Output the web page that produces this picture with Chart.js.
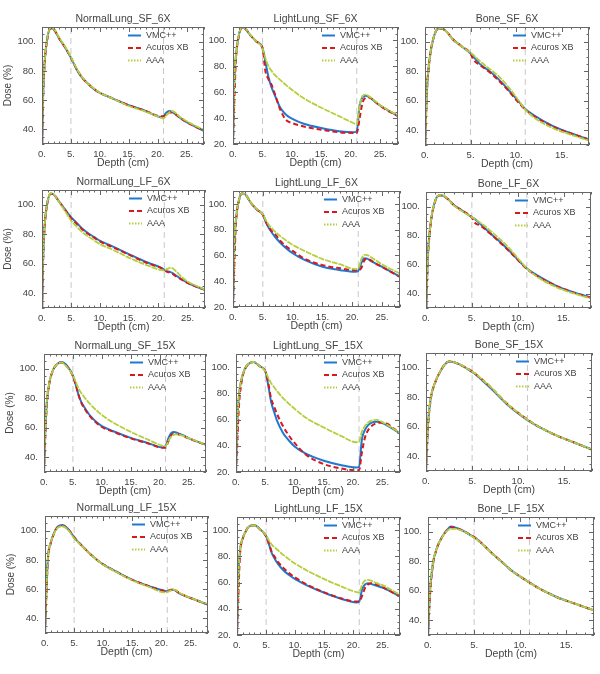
<!DOCTYPE html>
<html>
<head>
<meta charset="utf-8">
<script src="https://cdn.jsdelivr.net/npm/chart.js@4.4.1/dist/chart.umd.min.js"></script>
<style>
  html, body { margin: 0; padding: 0; background: #fff; }
  #page { position: relative; width: 600px; height: 674px; overflow: hidden; }
  #page canvas { position: absolute; }
</style>
</head>
<body>
<div id="page"></div>
<script>
// Depth-dose curves, 3 algorithms, 12 phantom/field/energy cases

const lungDepth = [0, 0.2, 0.5, 1, 1.5, 2, 3, 4, 5, 5.5, 6, 6.5, 7, 8, 9, 10, 12, 15, 18, 20.5, 21, 21.5, 22, 22.5, 23, 24, 25, 28];
const boneDepth = [0, 0.2, 0.5, 1, 1.5, 2, 2.5, 3, 4, 5, 5.3, 6, 7, 8, 9, 10, 11, 12, 14, 16, 18];

const lungXTicks = [0, 5, 10, 15, 20, 25];
const boneXTicks = [0, 5, 10, 15];
const lightYTicks = [20, 40, 60, 80, 100];
const denseYTicks = [40, 60, 80, 100];
const lungInterfaces = [5, 21];
const boneInterfaces = [5, 11];

const seriesNames = ['VMC++', 'Acuros XB', 'AAA'];

// --- 6X, small field
const nlSf6Vmc = [25, 65, 88, 104, 109.3, 108.5, 102, 96, 89, 85, 81, 77.5, 75, 71, 67.5, 65, 61.5, 56.5, 52.5, 48.5, 49, 51.5, 52.5, 52, 50.5, 47.5, 45, 39];
const nlSf6Axb = [25, 62, 87, 103.5, 109, 108.5, 102, 96, 89, 85, 81, 78, 75, 71, 67.5, 65, 61.5, 56.5, 52.5, 49, 49, 50.5, 51.5, 51.5, 50.5, 47.5, 45, 39];
const nlSf6Aaa = [25, 65, 88, 104, 109.5, 109, 102.5, 96.5, 89.5, 85.5, 81.5, 78, 75.5, 71, 68, 65, 61.5, 56, 52, 48, 47.5, 49.5, 51.5, 52.5, 51.5, 48, 45.5, 39.5];

const llSf6Vmc = [20, 65, 88, 104, 109.7, 109, 103.4, 98.7, 94, 83, 72, 64, 58.5, 48, 42.5, 39.6, 35.6, 32.3, 29.8, 29, 30, 50, 56, 57.2, 56.5, 53, 49.5, 41.5];
const llSf6Axb = [20, 50, 85, 103, 109.5, 109, 103.4, 98.7, 94, 76, 70, 66, 60, 46.6, 38.5, 36.2, 33.5, 31, 29, 28.5, 28.5, 40, 52, 55.5, 56, 53, 49.2, 41.4];
const llSf6Aaa = [20, 65, 88, 104, 109.7, 109, 103.5, 98.7, 94, 86, 80, 76.5, 73.5, 69.3, 65.3, 61.7, 55.2, 47.9, 41.4, 36, 35, 50, 57, 58, 57, 53.5, 49.8, 42];

const bnSf6Vmc = [25, 65, 88, 104, 109, 108.5, 106, 102, 97, 92, 90, 85, 80.5, 75, 68.5, 61.5, 54.5, 50, 43, 38, 33.7];
const bnSf6Axb = [25, 65, 88, 104, 109, 108.5, 106, 102, 97, 92, 88, 84.3, 79.8, 74.2, 67.9, 60.7, 54, 49.4, 42.6, 37.9, 33.7];
const bnSf6Aaa = [25, 65, 88, 104, 109.3, 108.7, 106, 102, 97, 92.5, 91, 87, 82, 77, 70.5, 62.5, 54, 48.5, 41.5, 37, 33];

// --- 6X, large field
const nlLf6Vmc = [25, 65, 88, 103, 107.5, 107, 101.8, 96.5, 91.5, 89.5, 87.5, 85.5, 83.5, 80.5, 78, 75.5, 72, 66.4, 61, 57.2, 56, 55, 54.5, 53.5, 52, 49.5, 47, 42.3];
const nlLf6Axb = [25, 63, 87, 102.5, 107.5, 107, 101.8, 96.3, 91, 89, 87, 85, 83, 80, 77.5, 75, 71.5, 66, 60.5, 57, 55.5, 54.5, 54, 53, 51.5, 49.3, 47, 42.3];
const nlLf6Aaa = [25, 65, 88, 103, 107.8, 107.2, 101.5, 95.5, 89.2, 87, 85, 83, 81.2, 78.3, 75.7, 73.2, 69.8, 64, 59, 55.7, 55.5, 56.5, 57.2, 56.8, 55, 51, 48, 42.5];

const llLf6Vmc = [20, 65, 88, 103, 108, 107.5, 100.8, 95.6, 91.7, 86, 81.2, 77.8, 74.7, 69.5, 65.3, 61.7, 56.5, 51.2, 48.6, 47.3, 48, 54, 57.8, 57.5, 56, 53.5, 51.2, 43.4];
const llLf6Axb = [20, 50, 85, 102.5, 108, 107.5, 100.8, 95.6, 91.5, 86, 82, 79, 77, 71, 66.8, 63.5, 57.5, 52.5, 50, 48.5, 48.5, 50, 56, 57.5, 56.5, 53.5, 51, 43.4];
const llLf6Aaa = [20, 65, 88, 103, 108, 107.5, 101, 96, 92, 87.5, 83.8, 81.2, 78.6, 74.7, 71.3, 68.2, 63.5, 57.2, 53, 49.4, 50, 57, 60.4, 60.3, 59, 56, 53, 46];

const bnLf6Vmc = [25, 65, 88, 104, 107.8, 107, 104.5, 101.2, 97, 92.6, 91.5, 87.5, 81.5, 76, 70, 63.5, 57.3, 53, 46, 41, 37.2];
const bnLf6Axb = [25, 63, 87, 103.5, 107.8, 107, 104.5, 101.2, 97, 92.4, 89, 86.5, 81.3, 75.6, 69.6, 63.3, 57, 52.6, 45.8, 40.8, 37];
const bnLf6Aaa = [25, 65, 88, 104, 108, 107.2, 104.5, 101, 96.5, 92.6, 91.5, 88.5, 83.4, 77.8, 71.8, 64.5, 57.3, 52, 45, 40.2, 36.6];

// --- 15X, small field
const nlSf15Vmc = [30, 55, 78, 92, 98.5, 102, 104.6, 102, 95.4, 89, 81.7, 77, 73.7, 68, 64, 61.1, 57.6, 53.1, 49.6, 46.6, 47.5, 53, 56.5, 57.2, 56.5, 55, 53, 48.5];
const nlSf15Axb = [30, 52, 76, 91.5, 98.5, 102, 104.3, 101.5, 95, 89, 82, 76.5, 73, 67.5, 63.5, 60.5, 57.2, 52.8, 49.3, 46.5, 46.5, 51, 55, 56, 55.8, 54.5, 52.8, 48.3];
const nlSf15Aaa = [30, 55, 78, 92, 98.5, 102, 104.3, 101, 95.5, 91, 86.3, 83.3, 80.5, 76, 72, 68.6, 63.4, 57.2, 51.9, 47.8, 47.5, 51, 54, 55.3, 55.5, 54.5, 53, 48.5];

const llSf15Vmc = [20, 55, 78, 92, 98.5, 102, 103.9, 100.8, 96.9, 86.4, 73.4, 66, 59.1, 50, 44.2, 39.5, 33.8, 28.6, 25.2, 23.4, 24, 45, 52, 55.5, 57.3, 58.3, 57.3, 49.4];
const llSf15Axb = [20, 40, 70, 90, 98, 101.8, 103.9, 100.8, 96.9, 88, 76, 70, 64.3, 55.2, 48, 42.2, 33, 26, 22.6, 21.3, 21.3, 35, 46, 51.5, 54.5, 57.3, 57.8, 49.5];
const llSf15Aaa = [20, 55, 78, 92, 98.5, 102, 103.9, 100.8, 96.9, 92, 87.8, 84.7, 81.8, 76.5, 72.2, 68.2, 61.2, 53.9, 47.4, 42.7, 43, 51, 55, 57.5, 59, 59.8, 58, 49.8];

const bnSf15Vmc = [30, 60, 79, 90.3, 97, 102, 104.3, 103.8, 101.1, 97.1, 96, 92, 86.3, 80, 74, 69, 64.5, 60.8, 54.5, 49.5, 44.5];
const bnSf15Axb = [30, 58, 78, 90, 97, 102, 104.3, 103.8, 101.1, 97.5, 96, 92.5, 86.9, 80.5, 74.4, 69.4, 65, 60.8, 54.5, 49.5, 44.5];
const bnSf15Aaa = [30, 60, 79, 90.3, 97, 102, 104.3, 103.8, 101.3, 97.3, 96.3, 92.5, 87, 80.5, 74.4, 69.4, 64.7, 60.8, 54.5, 49.5, 44.5];

// --- 15X, large field
const nlLf15Vmc = [30, 55, 81, 92, 97.8, 101.8, 103.8, 101, 95.5, 93.2, 91, 89, 87, 83.1, 79.8, 76.9, 72.4, 66.3, 61.8, 58.9, 58.5, 59.2, 59.6, 58.8, 57.3, 55.5, 53.9, 49.4];
const nlLf15Axb = [30, 52, 80, 91.5, 97.5, 101.6, 103.4, 100.8, 95.5, 93, 91, 89, 87, 83.1, 79.8, 76.9, 72.4, 66.3, 61.8, 58.7, 58.5, 59.5, 59.8, 59, 57.5, 55.5, 53.9, 49.4];
const nlLf15Aaa = [30, 55, 81, 92, 97.5, 101.3, 103, 100.3, 94.8, 92.8, 90.7, 88.8, 86.8, 83, 79.7, 76.7, 72.2, 66, 61.3, 57.8, 58, 59, 59.7, 59.2, 57.7, 55.6, 54, 49.5];

const llLf15Vmc = [20, 60, 83.5, 94, 99, 102.5, 103.7, 100.5, 95.3, 89, 82.2, 78, 74.4, 69.2, 65.6, 62.6, 57.9, 52.2, 47.5, 44.8, 45.5, 55, 58.5, 59.5, 59, 57.5, 56.1, 49.5];
const llLf15Axb = [20, 45, 80, 93.5, 99, 102.5, 103.7, 100.5, 95.3, 89.5, 83, 79.5, 76, 71, 67, 63.8, 58.5, 52.5, 47.8, 45.5, 45.5, 50, 56, 58.5, 59.5, 58.5, 56.5, 49.5];
const llLf15Aaa = [20, 60, 83.5, 94, 99, 102.5, 103.7, 100.5, 96, 92, 88.8, 86.8, 84.8, 80.9, 77.5, 74.4, 69.2, 62.6, 56.9, 52.7, 52.5, 58.5, 61.5, 62, 61.5, 59.5, 58, 50.5];

const bnLf15Vmc = [30, 58, 77.3, 89.6, 96.2, 100.7, 103.6, 102.8, 100, 96.2, 95, 91.1, 85.1, 79.6, 74, 69.6, 65.6, 61.8, 55.6, 51.1, 46.7];
const bnLf15Axb = [30, 55, 76, 89.3, 96, 100.5, 103, 102.6, 100, 96.5, 95, 91.1, 85.1, 79.6, 74, 69.6, 65.6, 61.8, 55.6, 51.1, 46.7];
const bnLf15Aaa = [30, 58, 77.3, 89.6, 96, 100.3, 102, 102, 99.8, 96, 94.8, 91, 85.1, 79.6, 74, 69.6, 65.6, 61.8, 55.6, 51.1, 46.7];

const seriesStyle = [
  { color: '#1f78d2', dash: [], width: 2 },
  { color: '#d7191c', dash: [5, 3], width: 2 },
  { color: '#b4cf3c', dash: [6, 1], width: 1.8 },
];

const lung = (title, vals, yMin) => ({ title, depth: lungDepth, vals, yMin, xMax: 28, xTicks: lungXTicks, marks: lungInterfaces });
const bone = (title, vals) => ({ title, depth: boneDepth, vals, yMin: 30, xMax: 18, xTicks: boneXTicks, marks: boneInterfaces });

const panels = [
  lung('NormalLung_SF_6X', [nlSf6Vmc, nlSf6Axb, nlSf6Aaa], 30),
  lung('LightLung_SF_6X', [llSf6Vmc, llSf6Axb, llSf6Aaa], 20),
  bone('Bone_SF_6X', [bnSf6Vmc, bnSf6Axb, bnSf6Aaa]),
  lung('NormalLung_LF_6X', [nlLf6Vmc, nlLf6Axb, nlLf6Aaa], 30),
  lung('LightLung_LF_6X', [llLf6Vmc, llLf6Axb, llLf6Aaa], 20),
  bone('Bone_LF_6X', [bnLf6Vmc, bnLf6Axb, bnLf6Aaa]),
  lung('NormalLung_SF_15X', [nlSf15Vmc, nlSf15Axb, nlSf15Aaa], 30),
  lung('LightLung_SF_15X', [llSf15Vmc, llSf15Axb, llSf15Aaa], 20),
  bone('Bone_SF_15X', [bnSf15Vmc, bnSf15Axb, bnSf15Aaa]),
  lung('NormalLung_LF_15X', [nlLf15Vmc, nlLf15Axb, nlLf15Aaa], 30),
  lung('LightLung_LF_15X', [llLf15Vmc, llLf15Axb, llLf15Aaa], 20),
  bone('Bone_LF_15X', [bnLf15Vmc, bnLf15Axb, bnLf15Aaa]),
];

// plot-area rectangles on the page: left, top, right, bottom
const plotRects = [
  [42, 27, 204, 144], [233, 27, 398, 144], [425, 27, 589, 145],
  [42, 190, 205, 308], [233, 191, 400, 307], [426, 192, 591, 308],
  [44, 354, 206, 472], [236, 354, 400, 472], [426, 353, 592, 471],
  [45, 516, 208, 633], [237, 517, 400, 635], [428, 517, 594, 635],
];

const Y_AXIS_W = 40, TITLE_H = 18, X_AXIS_H = 30, PAD_R = 4;
const INK = '#444';

Chart.defaults.font.family = '"Liberation Sans", Arial, sans-serif';
Chart.defaults.font.size = 9.5;
Chart.defaults.color = INK;

// box with inward major/minor ticks on all four sides, plus the legend
const frameAndLegend = {
  id: 'frameAndLegend',
  afterDatasetsDraw(chart) {
    const { ctx, chartArea: a, scales: { x, y } } = chart;
    ctx.save();
    ctx.strokeStyle = '#666';
    ctx.lineWidth = 1;
    ctx.setLineDash([]);
    ctx.strokeRect(a.left + 0.5, a.top + 0.5, a.width - 1, a.height - 1);
    ctx.beginPath();
    for (let v = 0; v <= x.max + 1e-6; v += 1) {
      const px = Math.round(x.getPixelForValue(v)) + 0.5;
      const len = v % 5 === 0 ? 5 : 2.5;
      ctx.moveTo(px, a.bottom); ctx.lineTo(px, a.bottom - len);
      ctx.moveTo(px, a.top); ctx.lineTo(px, a.top + len);
    }
    for (let v = y.min; v <= y.max + 1e-6; v += 5) {
      const py = Math.round(y.getPixelForValue(v)) + 0.5;
      const len = v % 20 === 0 ? 5 : 2.5;
      ctx.moveTo(a.left, py); ctx.lineTo(a.left + len, py);
      ctx.moveTo(a.right, py); ctx.lineTo(a.right - len, py);
    }
    ctx.stroke();

    // legend, top right inside the plot
    ctx.font = '9px "Liberation Sans", Arial, sans-serif';
    ctx.textBaseline = 'middle';
    ctx.fillStyle = INK;
    chart.data.datasets.filter(ds => !ds.isMarker).forEach((ds, i) => {
      const ly = a.top + 8.5 + i * 12.5;
      const lx = a.right - 76;
      ctx.beginPath();
      ctx.strokeStyle = ds.borderColor;
      ctx.lineWidth = 2;
      ctx.setLineDash(i === 2 ? [1.5, 1.5] : ds.borderDash);
      ctx.moveTo(lx, ly); ctx.lineTo(lx + 13, ly);
      ctx.stroke();
      ctx.fillText(ds.label, lx + 18, ly);
    });
    ctx.restore();
  }
};

const page = document.getElementById('page');

panels.forEach((p, idx) => {
  const [l, t, r, b] = plotRects[idx];
  const w = (r - l) + Y_AXIS_W + PAD_R;
  const h = (b - t) + TITLE_H + X_AXIS_H;
  const canvas = document.createElement('canvas');
  canvas.width = w; canvas.height = h;
  canvas.style.width = w + 'px'; canvas.style.height = h + 'px';
  canvas.style.left = (l - Y_AXIS_W) + 'px';
  canvas.style.top = (t - TITLE_H) + 'px';
  page.appendChild(canvas);

  const datasets = p.vals.map((vals, i) => ({
    label: seriesNames[i],
    data: p.depth.map((d, k) => ({ x: d, y: vals[k] })),
    borderColor: seriesStyle[i].color,
    borderDash: seriesStyle[i].dash,
    borderWidth: seriesStyle[i].width,
    pointRadius: 0,
    cubicInterpolationMode: 'monotone',
    order: 3 - i,
  }));
  p.marks.forEach(d => datasets.push({
    label: '',
    isMarker: true,
    data: [{ x: d, y: p.yMin }, { x: d, y: 110 }],
    borderColor: '#c8c8c8',
    borderDash: [6, 4],
    borderWidth: 1,
    pointRadius: 0,
    order: 10,
  }));

  new Chart(canvas, {
    type: 'line',
    data: { datasets },
    plugins: [frameAndLegend],
    options: {
      responsive: false,
      animation: false,
      devicePixelRatio: 1,
      layout: { padding: { left: 0, top: 0, right: PAD_R, bottom: 0 } },
      plugins: {
        legend: { display: false },
        tooltip: { enabled: false },
        title: {
          display: true,
          fullSize: false,
          text: p.title,
          color: INK,
          font: { size: 10.5, weight: 'normal', lineHeight: '12px' },
          padding: { top: 4, bottom: 2 },
        },
      },
      scales: {
        x: {
          type: 'linear',
          min: 0,
          max: p.xMax,
          grid: { display: false, drawTicks: false },
          border: { display: false },
          ticks: { padding: 5, autoSkip: false, maxRotation: 0, callback: v => v + '.' },
          afterBuildTicks: s => { s.ticks = p.xTicks.map(v => ({ value: v })); },
          afterFit: s => { s.height = X_AXIS_H; },
          title: { display: true, text: 'Depth (cm)', font: { size: 10.5, lineHeight: '12px' }, padding: { top: 0, bottom: 5 } },
        },
        y: {
          type: 'linear',
          min: p.yMin,
          max: 110,
          grid: { display: false, drawTicks: false },
          border: { display: false },
          ticks: { padding: 6, autoSkip: false, callback: v => v + '.' },
          afterBuildTicks: s => { s.ticks = (p.yMin === 20 ? lightYTicks : denseYTicks).map(v => ({ value: v })); },
          afterFit: s => { s.width = Y_AXIS_W; },
          title: { display: idx % 3 === 0, text: 'Dose (%)', font: { size: 10, lineHeight: '12px' }, padding: { top: 0, bottom: 0 } },
        },
      },
    },
  });
});
</script>
</body>
</html>
